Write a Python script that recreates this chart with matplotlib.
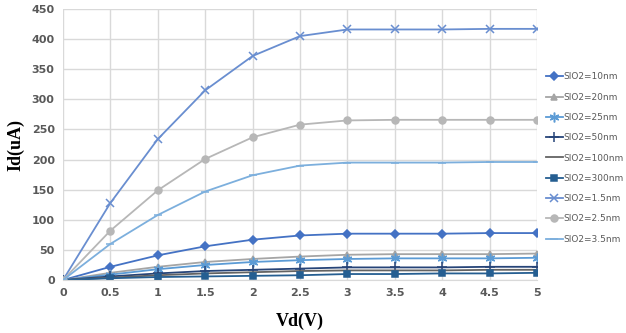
import numpy as np
import matplotlib
matplotlib.use("Agg")
import matplotlib.pyplot as plt

# drain voltage (V)
vd = [0, 0.5, 1, 1.5, 2, 2.5, 3, 3.5, 4, 4.5, 5]

# drain current (uA) for each oxide thickness
id_10nm = [0, 22, 41, 56, 67, 74, 77, 77, 77, 78, 78]
id_20nm = [0, 12, 22, 30, 35, 39, 42, 43, 43, 43, 44]
id_25nm = [0, 9, 18, 25, 30, 33, 35, 36, 36, 36, 37]
id_50nm = [0, 6, 11, 15, 17, 19, 21, 21, 21, 22, 22]
id_100nm = [0, 4, 8, 11, 13, 15, 16, 16, 16, 17, 17]
id_300nm = [0, 3, 5, 6, 7, 8, 10, 10, 11, 11, 12]
id_1p5nm = [0, 128, 234, 315, 372, 405, 416, 416, 416, 417, 417]
id_2p5nm = [0, 82, 149, 201, 237, 258, 265, 266, 266, 266, 266]
id_3p5nm = [0, 60, 108, 147, 174, 190, 195, 195, 195, 196, 196]

labels = ["SIO2=10nm", "SIO2=20nm", "SIO2=25nm", "SIO2=50nm", "SIO2=100nm",
          "SIO2=300nm", "SIO2=1.5nm", "SIO2=2.5nm", "SIO2=3.5nm"]
series = [id_10nm, id_20nm, id_25nm, id_50nm, id_100nm,
          id_300nm, id_1p5nm, id_2p5nm, id_3p5nm]
colors = ["#4472C4", "#A5A5A5", "#5B9BD5", "#264478", "#636363",
          "#255E91", "#698ED0", "#B7B7B7", "#7CAFDD"]
markers = ["D", "^", (6, 2, 0), "+", None, "s", "x", "o", "_"]
msizes = [4, 5, 7, 7, 0, 5, 6, 5, 6]

fig = plt.figure(figsize=(6.26, 3.33), dpi=100)
ax = fig.add_axes([0.1006, 0.159, 0.7574, 0.814])

for y, lab, c, m, ms in zip(series, labels, colors, markers, msizes):
    ax.plot(vd, y, color=c, marker=m, markersize=ms, linewidth=1.3,
            markeredgewidth=1.1, label=lab)

ax.set_xlim(0, 5)
ax.set_ylim(0, 450)
ax.set_xticks(np.arange(0, 5.01, 0.5))
ax.set_xticklabels(["0", "0.5", "1", "1.5", "2", "2.5", "3", "3.5", "4", "4.5", "5"])
ax.set_yticks(np.arange(0, 451, 50))
ax.grid(True, color="#D9D9D9", linewidth=1)
ax.set_axisbelow(True)
for s in ["top", "right", "left"]:
    ax.spines[s].set_visible(False)
ax.spines["bottom"].set_color("#D9D9D9")
ax.tick_params(length=0, labelsize=8, colors="#595959", pad=6)
for t in ax.get_xticklabels() + ax.get_yticklabels():
    t.set_fontweight("bold")

ax.set_xlabel("Vd(V)", fontsize=13, fontweight="bold", family="Liberation Serif", labelpad=10)
ax.set_ylabel("Id(uA)", fontsize=13, fontweight="bold", family="Liberation Serif", labelpad=5)

leg = ax.legend(loc="center left", bbox_to_anchor=(1.005, 0.45), frameon=False,
                fontsize=6.5, labelcolor="#595959", handlelength=1.9,
                handletextpad=0.1, labelspacing=1.25, borderaxespad=0.3)

fig.savefig("out.png", dpi=100)
